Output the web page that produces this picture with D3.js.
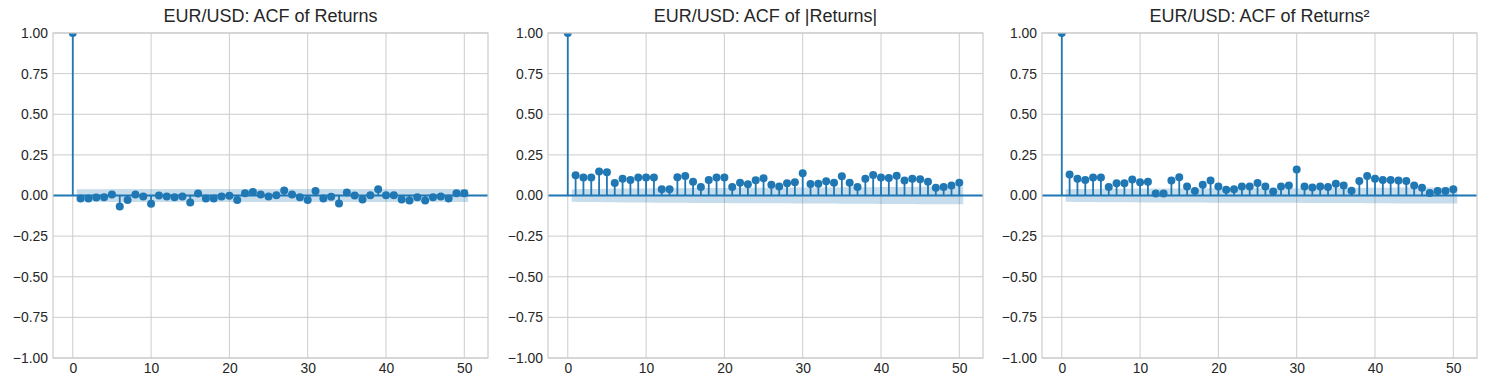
<!DOCTYPE html>
<html>
<head>
<meta charset="utf-8">
<script src="https://cdn.jsdelivr.net/npm/d3@7"></script>
<style>
  html, body { margin: 0; padding: 0; background: #ffffff; }
  svg { display: block; }
  text { font-family: "Liberation Sans", Arial, "DejaVu Sans", sans-serif; fill: #262626; }
</style>
</head>
<body>
<svg id="chart" width="1487" height="387"></svg>
<script>
// ---- data ----
const titles = ["EUR/USD: ACF of Returns", "EUR/USD: ACF of |Returns|", "EUR/USD: ACF of Returns²"];
const xTicks = [0, 10, 20, 30, 40, 50];
const yTicks = [-1, -0.75, -0.5, -0.25, 0, 0.25, 0.5, 0.75, 1];
const sampleSize = 2500; // used for the Bartlett confidence band

const acfReturns = [1,
  -0.018, -0.018, -0.012, -0.010, 0.006, -0.068, -0.027, 0.006, -0.006, -0.050,
  0.000, -0.006, -0.010, -0.006, -0.043, 0.012, -0.018, -0.018, -0.006, -0.002,
  -0.027, 0.014, 0.022, 0.006, -0.006, 0.002, 0.031, 0.006, -0.010, -0.027,
  0.027, -0.018, -0.008, -0.049, 0.018, 0.000, -0.025, 0.002, 0.039, 0.002,
  0.002, -0.025, -0.031, -0.010, -0.031, -0.010, -0.006, -0.018, 0.014, 0.014];

const acfAbsReturns = [1,
  0.124, 0.111, 0.111, 0.147, 0.143, 0.077, 0.103, 0.096, 0.111, 0.111,
  0.111, 0.038, 0.038, 0.113, 0.120, 0.085, 0.053, 0.096, 0.111, 0.111,
  0.053, 0.079, 0.070, 0.094, 0.106, 0.066, 0.056, 0.075, 0.081, 0.137,
  0.071, 0.073, 0.088, 0.079, 0.118, 0.079, 0.053, 0.103, 0.126, 0.111,
  0.107, 0.122, 0.092, 0.103, 0.100, 0.085, 0.047, 0.053, 0.062, 0.079];

const acfSqReturns = [1,
  0.130, 0.103, 0.096, 0.111, 0.111, 0.053, 0.075, 0.075, 0.098, 0.081,
  0.085, 0.013, 0.013, 0.092, 0.113, 0.056, 0.028, 0.066, 0.092, 0.056,
  0.036, 0.038, 0.056, 0.055, 0.077, 0.056, 0.024, 0.056, 0.062, 0.160,
  0.056, 0.049, 0.056, 0.053, 0.073, 0.062, 0.030, 0.090, 0.120, 0.103,
  0.096, 0.096, 0.092, 0.090, 0.062, 0.047, 0.015, 0.028, 0.028, 0.038];

const seriesList = [acfReturns, acfAbsReturns, acfSqReturns];

// ---- layout ----
const panelLefts = [53, 548, 1042];
const panelWidth = 435;
const plotTop = 33, plotBottom = 358;
const blue = "#1f77b4";
const gridColor = "#cccccc";

const svg = d3.select("#chart");
const fmt = d => (d < 0 ? "\u2212" : "") + Math.abs(d).toFixed(2);

seriesList.forEach((acf, pi) => {
  const left = panelLefts[pi];
  const right = left + panelWidth;
  const lags = acf.map((_, i) => i);
  const x = d3.scaleLinear().domain([-2.525, 53.025]).range([left, right]);
  const y = d3.scaleLinear().domain([-1, 1]).range([plotBottom, plotTop]);

  const g = svg.append("g");
  const clipId = "clip" + pi;
  svg.append("clipPath").attr("id", clipId)
    .append("rect").attr("x", left).attr("y", plotTop).attr("width", panelWidth).attr("height", plotBottom - plotTop);

  // grid
  g.append("g").selectAll("line").data(xTicks).join("line")
    .attr("x1", d => x(d)).attr("x2", d => x(d)).attr("y1", plotTop).attr("y2", plotBottom)
    .attr("stroke", gridColor).attr("stroke-width", 1);
  g.append("g").selectAll("line").data(yTicks).join("line")
    .attr("x1", left).attr("x2", right).attr("y1", d => y(d)).attr("y2", d => y(d))
    .attr("stroke", gridColor).attr("stroke-width", 1);

  // axes (labels only, no ticks)
  const yAxis = d3.axisLeft(y).tickValues(yTicks).tickFormat(fmt).tickSize(0).tickPadding(5);
  const ya = g.append("g").attr("transform", `translate(${left},0)`).call(yAxis);
  ya.select(".domain").remove();
  ya.selectAll("text").attr("font-size", "13.9px").attr("fill", "#262626")
    .style("font-family", '"Liberation Sans", Arial, sans-serif');

  const xAxis = d3.axisBottom(x).tickValues(xTicks).tickFormat(d3.format("d")).tickSize(0).tickPadding(5);
  const xa = g.append("g").attr("transform", `translate(0,${plotBottom})`).call(xAxis);
  xa.select(".domain").remove();
  xa.selectAll("text").attr("font-size", "13.9px").attr("fill", "#262626")
    .style("font-family", '"Liberation Sans", Arial, sans-serif');

  // Bartlett confidence band (centered on 0), as statsmodels draws it
  const band = [];
  let cum = 0;
  for (let k = 1; k < acf.length; k++) {
    const v = (k === 1 ? 1 : 1 + 2 * cum) / sampleSize;
    const half = 1.959964 * Math.sqrt(v);
    let lx = k;
    if (k === 1) lx = k - 0.5;
    if (k === acf.length - 1) lx = k + 0.5;
    band.push({ x: lx, h: half });
    cum += acf[k] * acf[k];
  }
  const plot = g.append("g").attr("clip-path", `url(#${clipId})`);
  plot.append("path").datum(band)
    .attr("d", d3.area().x(d => x(d.x)).y0(d => y(-d.h)).y1(d => y(d.h)))
    .attr("fill", blue).attr("fill-opacity", 0.25).attr("stroke", "none");

  // zero line
  plot.append("line").attr("x1", left).attr("x2", right).attr("y1", y(0)).attr("y2", y(0))
    .attr("stroke", blue).attr("stroke-width", 2);

  // stems
  plot.append("g").selectAll("line").data(lags).join("line")
    .attr("x1", d => x(d)).attr("x2", d => x(d))
    .attr("y1", y(0)).attr("y2", d => y(acf[d]))
    .attr("stroke", blue).attr("stroke-width", 1.8);

  // markers
  plot.append("g").selectAll("circle").data(lags).join("circle")
    .attr("cx", d => x(d)).attr("cy", d => y(acf[d])).attr("r", 4)
    .attr("fill", blue);

  // frame
  g.append("rect").attr("x", left).attr("y", plotTop).attr("width", panelWidth).attr("height", plotBottom - plotTop)
    .attr("fill", "none").attr("stroke", gridColor).attr("stroke-width", 1.2);

  // title
  svg.append("text").attr("x", (left + right) / 2).attr("y", 22)
    .attr("text-anchor", "middle").attr("font-size", "18px")
    .text(titles[pi]);
});
</script>
</body>
</html>
